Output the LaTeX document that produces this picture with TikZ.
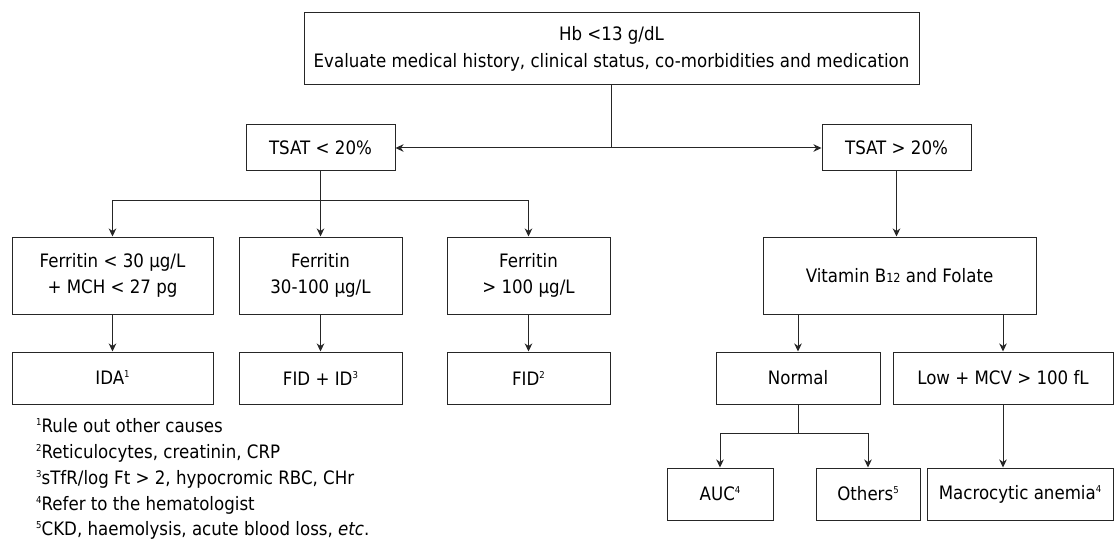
\documentclass[tikz,border=0pt]{standalone}
\usepackage{fontspec}
\setmainfont{DejaVu Sans}[FakeStretch=0.9]
\usetikzlibrary{arrows.meta}
\newcommand{\sups}[1]{\raisebox{7pt}{\fontsize{9.5}{9.5}\selectfont #1}}
\newcommand{\smallsub}[1]{{\fontsize{12.5}{12.5}\selectfont #1}}
\begin{document}
\begin{tikzpicture}[x=1pt,y=-1pt,
  box/.style={draw=black!85, line width=1pt, inner sep=0pt, align=center,
    font=\fontsize{18.5}{26.5}\selectfont},
  fn/.style={inner sep=0pt, anchor=base west, font=\fontsize{18.5}{26}\selectfont},
  conn/.style={draw=black!85, line width=1pt},
  arr/.style={conn, -{Stealth[length=8pt,width=7.5pt,inset=2.5pt]}}]
\useasboundingbox (0,0) rectangle (1115,540);
\fill[white] (0,0) rectangle (1115,540);

% top
\node[box, minimum width=615pt, minimum height=72pt] (top) at (611.5,49)
  {Hb <13 g/dL\\Evaluate medical history, clinical status, co-morbidities and medication};

% TSAT level
\node[box, minimum width=149pt, minimum height=46pt] (tl) at (320.5,148) {TSAT < 20\%};
\node[box, minimum width=149pt, minimum height=46pt] (tr) at (896.5,148) {TSAT > 20\%};

% ferritin level
\node[box, minimum width=201pt, minimum height=77pt] (f1) at (112.5,275.5)
  {Ferritin < 30 μg/L\\+ MCH < 27 pg};
\node[box, minimum width=163pt, minimum height=77pt] (f2) at (320.5,275.5)
  {Ferritin\\30-100 μg/L};
\node[box, minimum width=163pt, minimum height=77pt] (f3) at (528.5,275.5)
  {Ferritin\\> 100 μg/L};
\node[box, minimum width=273pt, minimum height=77pt] (vit) at (899.5,275.5)
  {Vitamin B\smallsub{12} and Folate};

% diagnosis level
\node[box, minimum width=201pt, minimum height=52pt] (ida) at (112.5,378) {IDA\sups{1}};
\node[box, minimum width=163pt, minimum height=52pt] (fidid) at (320.5,378) {FID + ID\sups{3}};
\node[box, minimum width=163pt, minimum height=52pt] (fid) at (528.5,378) {FID\sups{2}};
\node[box, minimum width=164pt, minimum height=52pt] (nor) at (798,378) {Normal};
\node[box, minimum width=220pt, minimum height=52pt] (low) at (1003,378) {Low + MCV > 100 fL};

% bottom right level
\node[box, minimum width=106pt, minimum height=52pt] (auc) at (720,494) {AUC\sups{4}};
\node[box, minimum width=104pt, minimum height=52pt] (oth) at (868,494) {Others\sups{5}};
\node[box, minimum width=186pt, minimum height=52pt] (mac) at (1020,494) {Macrocytic anemia\sups{4}};

% footnotes
\node[fn] (n1) at (36,432) {\sups{1}Rule out other causes};
\node[fn] (n2) at (36,458) {\sups{2}Reticulocytes, creatinin, CRP};
\node[fn] (n3) at (36,484) {\sups{3}sTfR/log Ft > 2, hypocromic RBC, CHr};
\node[fn] (n4) at (36,510) {\sups{4}Refer to the hematologist};
\node[fn] (n5) at (36,535) {\sups{5}CKD, haemolysis, acute blood loss, \textit{etc}.};

% connectors
\draw[conn] (top.south) -- (top.south |- tl.east) coordinate (hub);
\draw[arr] (hub) -- (tl.east);
\draw[arr] (hub) -- (tr.west);

\coordinate (lb) at (320.5,200);
\draw[conn] (tl.south) -- (tl.south |- lb);
\draw[conn] (f1.north |- lb) -- (f3.north |- lb);
\draw[arr] (f1.north |- lb) -- (f1.north);
\draw[arr] (f2.north |- lb) -- (f2.north);
\draw[arr] (f3.north |- lb) -- (f3.north);

\draw[arr] (f1.south) -- (ida.north);
\draw[arr] (f2.south) -- (fidid.north);
\draw[arr] (f3.south) -- (fid.north);

\draw[arr] (tr.south) -- (tr.south |- vit.north);
\draw[arr] (nor.north |- vit.south) -- (nor.north);
\draw[arr] (low.north |- vit.south) -- (low.north);

\coordinate (rb) at (798,433);
\draw[conn] (nor.south) -- (nor.south |- rb);
\draw[conn] (auc.north |- rb) -- (oth.north |- rb);
\draw[arr] (auc.north |- rb) -- (auc.north);
\draw[arr] (oth.north |- rb) -- (oth.north);
\draw[arr] (low.south) -- (low.south |- mac.north);
\end{tikzpicture}
\end{document}
